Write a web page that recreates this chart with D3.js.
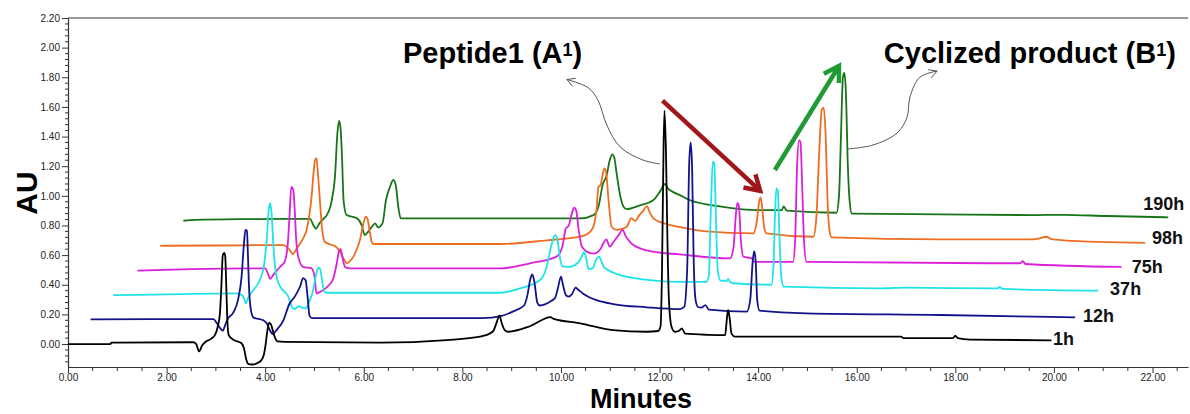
<!DOCTYPE html>
<html><head><meta charset="utf-8">
<script src="https://cdn.jsdelivr.net/npm/d3@7"></script>
<style>body{margin:0;background:#fff}svg{display:block}</style>
</head><body>
<svg id="chart" width="1190" height="414"></svg>
<script>
// ---------- data (minutes, AU as displayed, each trace offset in the plot) ----------
const seriesNames = ["1h", "12h", "37h", "75h", "98h", "190h"];

const trace1h = [[0.00,0.000],[0.86,0.000],[0.88,0.010],[2.54,0.012],[2.60,0.000],[2.66,-0.050],[2.72,-0.010],[2.78,0.012],[2.90,0.035],[2.98,0.060],[3.04,0.120],[3.08,0.200],[3.11,0.380],[3.14,0.600],[3.17,0.615],[3.19,0.590],[3.21,0.400],[3.23,0.180],[3.26,0.060],[3.35,0.030],[3.52,0.005],[3.57,-0.030],[3.62,-0.110],[3.66,-0.135],[3.74,-0.138],[3.89,-0.120],[3.97,-0.075],[4.01,0.000],[4.04,0.080],[4.08,0.145],[4.12,0.130],[4.18,0.060],[4.25,0.018],[4.40,0.015],[6.33,0.010],[7.68,0.027],[8.36,0.050],[8.62,0.085],[8.70,0.150],[8.75,0.192],[8.80,0.140],[8.86,0.094],[8.93,0.083],[9.37,0.120],[9.79,0.182],[9.84,0.172],[10.39,0.140],[11.06,0.094],[11.74,0.083],[11.97,0.088],[12.02,0.120],[12.05,0.500],[12.08,1.300],[12.10,1.575],[12.13,1.300],[12.16,0.700],[12.19,0.300],[12.24,0.120],[12.31,0.083],[12.40,0.090],[12.45,0.106],[12.52,0.070],[13.00,0.062],[13.33,0.060],[13.36,0.150],[13.39,0.230],[13.42,0.180],[13.46,0.070],[13.53,0.050],[16.90,0.050],[16.95,0.040],[17.95,0.040],[18.00,0.055],[18.05,0.040],[18.30,0.030],[19.95,0.025]];

const trace12h = [[0.46,0.167],[2.95,0.168],[3.02,0.140],[3.08,0.110],[3.14,0.090],[3.19,0.130],[3.24,0.170],[3.35,0.210],[3.45,0.300],[3.52,0.450],[3.57,0.680],[3.60,0.770],[3.63,0.765],[3.65,0.600],[3.67,0.400],[3.71,0.230],[3.76,0.180],[3.96,0.160],[4.03,0.140],[4.10,0.090],[4.15,0.067],[4.23,0.094],[4.37,0.160],[4.49,0.270],[4.60,0.320],[4.71,0.390],[4.77,0.445],[4.82,0.430],[4.86,0.320],[4.90,0.190],[4.95,0.175],[6.00,0.175],[8.40,0.175],[8.80,0.190],[9.03,0.220],[9.25,0.260],[9.32,0.330],[9.38,0.440],[9.42,0.470],[9.46,0.420],[9.52,0.280],[9.57,0.260],[9.80,0.290],[9.88,0.310],[9.94,0.380],[10.00,0.455],[10.04,0.400],[10.10,0.330],[10.15,0.320],[10.22,0.335],[10.30,0.380],[10.34,0.370],[10.45,0.340],[11.06,0.270],[11.74,0.248],[12.41,0.235],[12.50,0.250],[12.56,0.500],[12.60,1.200],[12.63,1.360],[12.66,1.200],[12.69,0.600],[12.73,0.300],[12.78,0.250],[12.85,0.245],[12.93,0.262],[13.00,0.232],[13.77,0.218],[13.84,0.300],[13.89,0.560],[13.92,0.625],[13.95,0.560],[13.98,0.300],[14.03,0.225],[14.98,0.207],[17.70,0.196],[20.43,0.180]];

const trace37h = [[0.92,0.330],[2.00,0.335],[3.42,0.342],[3.53,0.330],[3.58,0.300],[3.61,0.275],[3.65,0.310],[3.76,0.364],[3.89,0.430],[3.98,0.540],[4.03,0.700],[4.07,0.900],[4.10,0.950],[4.13,0.880],[4.17,0.650],[4.22,0.470],[4.30,0.390],[4.40,0.350],[4.47,0.320],[4.54,0.250],[4.60,0.235],[4.68,0.255],[4.75,0.245],[4.82,0.240],[4.90,0.290],[4.97,0.360],[5.04,0.480],[5.08,0.515],[5.11,0.510],[5.15,0.440],[5.19,0.360],[5.25,0.346],[8.76,0.346],[9.17,0.376],[9.57,0.430],[9.71,0.520],[9.80,0.660],[9.86,0.725],[9.89,0.735],[9.93,0.700],[9.98,0.580],[10.03,0.525],[10.15,0.520],[10.35,0.550],[10.42,0.590],[10.47,0.620],[10.51,0.580],[10.56,0.505],[10.64,0.510],[10.72,0.575],[10.77,0.590],[10.82,0.560],[10.88,0.515],[11.40,0.450],[12.41,0.420],[12.95,0.420],[13.00,0.460],[13.04,0.900],[13.08,1.230],[13.11,1.220],[13.14,0.900],[13.18,0.500],[13.23,0.430],[13.36,0.425],[13.39,0.440],[13.43,0.420],[13.50,0.410],[14.27,0.400],[14.31,0.520],[14.34,0.850],[14.37,1.050],[14.40,1.030],[14.43,0.750],[14.47,0.450],[14.52,0.387],[16.47,0.376],[17.00,0.380],[18.85,0.375],[18.90,0.385],[18.95,0.372],[20.90,0.360]];

const trace75h = [[1.41,0.495],[2.50,0.505],[4.00,0.510],[4.05,0.480],[4.10,0.440],[4.17,0.470],[4.30,0.520],[4.40,0.560],[4.46,0.680],[4.50,0.900],[4.53,1.060],[4.57,1.040],[4.60,0.900],[4.63,0.700],[4.67,0.590],[4.77,0.520],[4.94,0.510],[5.00,0.460],[5.04,0.342],[5.10,0.350],[5.18,0.364],[5.30,0.400],[5.38,0.440],[5.45,0.540],[5.50,0.630],[5.53,0.640],[5.57,0.580],[5.62,0.520],[5.72,0.510],[8.76,0.510],[9.37,0.545],[9.91,0.590],[10.03,0.660],[10.10,0.780],[10.16,0.800],[10.22,0.880],[10.27,0.920],[10.31,0.900],[10.36,0.770],[10.42,0.660],[10.52,0.625],[10.66,0.610],[10.80,0.640],[10.86,0.680],[10.92,0.706],[10.99,0.657],[11.07,0.690],[11.18,0.740],[11.25,0.770],[11.31,0.730],[11.40,0.690],[11.47,0.668],[11.87,0.623],[12.41,0.605],[13.43,0.578],[13.50,0.650],[13.55,0.880],[13.58,0.953],[13.61,0.930],[13.65,0.700],[13.70,0.590],[13.87,0.578],[13.92,0.555],[14.71,0.555],[14.75,0.700],[14.79,1.200],[14.83,1.376],[14.86,1.360],[14.89,1.100],[14.93,0.700],[14.98,0.555],[18.63,0.545],[19.32,0.545],[19.37,0.560],[19.42,0.540],[21.37,0.520]];

const trace98h = [[1.87,0.663],[3.00,0.665],[4.37,0.668],[4.50,0.634],[4.56,0.607],[4.64,0.646],[4.77,0.713],[4.84,0.770],[4.90,0.880],[4.94,0.990],[4.98,1.150],[5.01,1.240],[5.04,1.255],[5.07,1.150],[5.11,0.970],[5.15,0.790],[5.21,0.690],[5.35,0.668],[5.42,0.660],[5.52,0.623],[5.60,0.570],[5.65,0.545],[5.72,0.560],[5.79,0.590],[5.87,0.650],[5.92,0.700],[5.99,0.810],[6.04,0.860],[6.08,0.840],[6.12,0.760],[6.16,0.690],[6.19,0.675],[8.76,0.675],[9.71,0.700],[10.39,0.724],[10.60,0.760],[10.68,0.820],[10.72,0.900],[10.76,1.060],[10.80,1.070],[10.85,1.150],[10.88,1.185],[10.92,1.150],[10.96,0.990],[11.03,0.790],[11.13,0.770],[11.33,0.790],[11.43,0.850],[11.50,0.830],[11.59,0.870],[11.67,0.900],[11.74,0.930],[11.80,0.890],[11.87,0.850],[12.14,0.810],[12.41,0.790],[12.95,0.760],[13.90,0.747],[13.97,0.820],[14.02,0.960],[14.05,0.990],[14.08,0.930],[14.12,0.790],[14.17,0.747],[15.12,0.724],[15.18,0.850],[15.24,1.300],[15.29,1.580],[15.33,1.595],[15.37,1.400],[15.41,0.950],[15.45,0.760],[15.49,0.720],[17.69,0.706],[19.57,0.706],[19.70,0.712],[19.85,0.724],[19.95,0.708],[20.20,0.700],[21.85,0.683]];

const trace190h = [[2.34,0.832],[2.60,0.838],[3.66,0.843],[4.91,0.845],[4.98,0.800],[5.03,0.778],[5.10,0.814],[5.18,0.845],[5.25,0.870],[5.35,0.970],[5.42,1.150],[5.46,1.400],[5.50,1.505],[5.53,1.450],[5.56,1.250],[5.59,0.970],[5.65,0.870],[5.86,0.848],[5.96,0.800],[6.02,0.735],[6.09,0.758],[6.16,0.790],[6.23,0.814],[6.29,0.787],[6.38,0.814],[6.45,0.970],[6.53,1.060],[6.60,1.107],[6.65,1.070],[6.70,0.926],[6.75,0.848],[8.76,0.848],[10.39,0.848],[10.66,0.870],[10.76,0.926],[10.85,1.080],[10.92,1.130],[10.99,1.240],[11.04,1.280],[11.08,1.260],[11.13,1.150],[11.20,1.005],[11.27,0.926],[11.33,0.910],[11.60,0.935],[11.87,0.970],[12.01,1.030],[12.11,1.080],[12.17,1.050],[12.28,1.025],[12.41,1.005],[12.62,0.970],[13.29,0.926],[13.97,0.904],[14.48,0.904],[14.52,0.928],[14.58,0.900],[15.59,0.886],[15.64,1.000],[15.68,1.400],[15.72,1.800],[15.75,1.830],[15.78,1.700],[15.82,1.200],[15.86,0.950],[15.90,0.880],[17.69,0.875],[19.57,0.870],[20.20,0.872],[21.07,0.864],[22.32,0.855]];

const xTickLabels = [0, 2, 4, 6, 8, 10, 12, 14, 16, 18, 20, 22];
const yTickLabels = [0.0, 0.2, 0.4, 0.6, 0.8, 1.0, 1.2, 1.4, 1.6, 1.8, 2.0, 2.2];

// ---------- styles / layout (kept apart from the data) ----------
const seriesColors = ["#000000", "#12128c", "#1fe3e8", "#dc1fdc", "#ef6d20", "#177417"];
// series label anchor in data units (minutes, AU)
const seriesLabelPos = [[19.98,-0.007],[20.59,0.150],[21.14,0.331],[21.58,0.481],[21.99,0.675],[21.81,0.904]];

const W = 1190, H = 414;
const margin = {left: 68, top: 18, right: 2, bottom: 47};
const svg = d3.select("#chart");

const x = d3.scaleLinear().domain([0, 22.72]).range([margin.left, W - margin.right]);
const y = d3.scaleLinear().domain([-0.155, 2.2]).range([H - margin.bottom, margin.top]);

const axisColor = "#333";
const fontTick = "'Liberation Sans', Arial, sans-serif";

// frame top line
svg.append("line").attr("x1", x.range()[0]).attr("x2", x.range()[1])
  .attr("y1", y(2.2)).attr("y2", y(2.2)).attr("stroke", axisColor).attr("stroke-width", 1.2);

// minor ticks
const yMinor = d3.range(-0.12, 2.2001, 0.04).filter(v => Math.abs(Math.round(v*5) - v*5) > 1e-6);
const xMinor = d3.range(0, 22.72, 0.5).filter(v => Math.abs(v % 2) > 1e-6);

const gy = svg.append("g").attr("transform", `translate(${margin.left},0)`)
  .call(d3.axisLeft(y).tickValues(yTickLabels).tickFormat(d3.format(".2f")).tickSize(6).tickPadding(2).tickSizeOuter(0));
gy.append("g").selectAll("line").data(yMinor).join("line")
  .attr("x1", -3).attr("x2", 0).attr("y1", d => y(d)).attr("y2", d => y(d)).attr("stroke", axisColor);

const gx = svg.append("g").attr("transform", `translate(0,${H - margin.bottom})`)
  .call(d3.axisBottom(x).tickValues(xTickLabels).tickFormat(d3.format(".2f")).tickSize(6).tickPadding(1).tickSizeOuter(0));
gx.append("g").selectAll("line").data(xMinor).join("line")
  .attr("x1", d => x(d)).attr("x2", d => x(d)).attr("y1", 0).attr("y2", 4).attr("stroke", axisColor);

[gx, gy].forEach(g => {
  g.select(".domain").attr("stroke", axisColor).attr("stroke-width", 1.2);
  g.selectAll(".tick line").attr("stroke", axisColor);
  g.selectAll("text").attr("font-family", fontTick).attr("font-size", 10).attr("fill", "#222");
});

// traces
const traces = [trace1h, trace12h, trace37h, trace75h, trace98h, trace190h];
const line = d3.line().x(d => x(d[0])).y(d => y(d[1])).curve(d3.curveMonotoneX);
// draw from back (190h) to front (1h)
const order = [5, 4, 3, 2, 1, 0];
svg.append("g").selectAll("path").data(order).join("path")
  .attr("d", i => line(traces[i]))
  .attr("fill", "none")
  .attr("stroke", i => seriesColors[i])
  .attr("stroke-width", 1.8)
  .attr("stroke-linejoin", "round");

// series labels
const fontBold = "'Liberation Sans', Arial, sans-serif";
svg.append("g").selectAll("text").data(seriesNames).join("text")
  .attr("x", (d, i) => x(seriesLabelPos[i][0]))
  .attr("y", (d, i) => y(seriesLabelPos[i][1]))
  .attr("font-family", fontBold).attr("font-weight", "bold").attr("font-size", 18)
  .attr("fill", "#111").text(d => d);

// axis titles
svg.append("text").attr("x", 590).attr("y", 408.2)
  .attr("font-family", fontBold).attr("font-weight", "bold").attr("font-size", 27).attr("fill", "#000").text("Minutes");
svg.append("text").attr("transform", "translate(37,193) rotate(-90)").attr("text-anchor", "middle")
  .attr("font-family", fontBold).attr("font-weight", "bold").attr("font-size", 30).attr("fill", "#000").text("AU");

// annotation titles (in data units)
function supText(xm, yau, main, after) {
  const t = svg.append("text").attr("x", x(xm)).attr("y", y(yau))
    .attr("font-family", fontBold).attr("font-weight", "bold").attr("font-size", 29).attr("fill", "#000");
  t.append("tspan").text(main);
  t.append("tspan").attr("font-size", 18).attr("dy", -7).text("1");
  t.append("tspan").attr("dy", 7).text(after);
}
supText(6.795, 1.896, "Peptide1 (A", ")");
supText(16.55, 1.896, "Cyclized product (B", ")");

// curved thin pointer arrows (data units)
const peptideCurve = [[12.01,1.215],[11.66,1.242],[11.20,1.330],[10.93,1.478],[10.75,1.646],[10.55,1.730],[10.12,1.785]];
const productCurve = [[15.82,1.316],[16.33,1.343],[16.82,1.424],[17.02,1.530],[17.08,1.667],[17.28,1.800],[17.63,1.842]];
const curveLine = d3.line().x(d => x(d[0])).y(d => y(d[1])).curve(d3.curveCatmullRom);

function arrowHead(tipPx, fromPx, len, color, width, spread) {
  const ang = Math.atan2(tipPx[1] - fromPx[1], tipPx[0] - fromPx[0]);
  const a1 = ang + Math.PI - spread, a2 = ang + Math.PI + spread;
  const p1 = [tipPx[0] + len * Math.cos(a1), tipPx[1] + len * Math.sin(a1)];
  const p2 = [tipPx[0] + len * Math.cos(a2), tipPx[1] + len * Math.sin(a2)];
  svg.append("path").attr("d", `M${p1}L${tipPx}L${p2}`).attr("fill", "none")
    .attr("stroke", color).attr("stroke-width", width).attr("stroke-linejoin", "miter").attr("stroke-linecap", "butt");
}

[peptideCurve, productCurve].forEach(c => {
  svg.append("path").attr("d", curveLine(c)).attr("fill", "none").attr("stroke", "#555").attr("stroke-width", 1);
  const n = c.length;
  arrowHead([x(c[n-1][0]), y(c[n-1][1])], [x(c[n-2][0]), y(c[n-2][1])], 9, "#555", 1, 0.5);
});

// thick straight trend arrows (data units)
const trendArrows = [
  {from: [12.06, 1.642], to: [14.04, 1.034], color: "#a0161a"},
  {from: [14.34, 1.174], to: [15.64, 1.876], color: "#1f9a35"}
];
trendArrows.forEach(a => {
  const f = [x(a.from[0]), y(a.from[1])], t = [x(a.to[0]), y(a.to[1])];
  const ang = Math.atan2(t[1] - f[1], t[0] - f[0]);
  const tShort = [t[0] - 2 * Math.cos(ang), t[1] - 2 * Math.sin(ang)];
  svg.append("line").attr("x1", f[0]).attr("y1", f[1]).attr("x2", tShort[0]).attr("y2", tShort[1])
    .attr("stroke", a.color).attr("stroke-width", 4.5);
  arrowHead(t, f, 17, a.color, 4.5, 0.55);
});
</script>
</body></html>
